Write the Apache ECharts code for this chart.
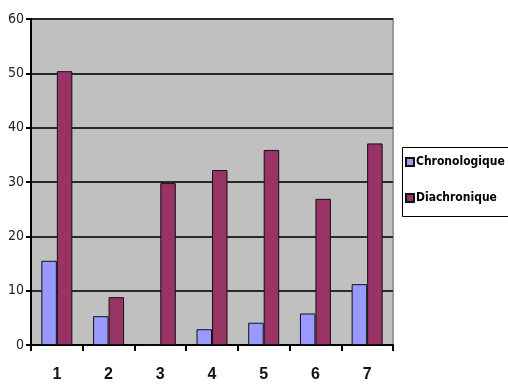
<!DOCTYPE html>
<html>
<head>
<meta charset="utf-8">
<script src="https://cdn.jsdelivr.net/npm/echarts@6/dist/echarts.min.js"></script>
<style>
  html, body { margin: 0; padding: 0; background: #fff; }
  #chart { width: 508px; height: 387px; }
</style>
</head>
<body>
<div id="chart"></div>
<script>
// Categories and values per series
const categories = ['1', '2', '3', '4', '5', '6', '7'];
const chronologique = [15.5, 5.3, 0, 2.9, 4.1, 5.8, 11.2];
const diachronique = [50.4, 8.8, 29.8, 32.2, 35.9, 26.9, 37.1];
const yTicks = { min: 0, max: 60, interval: 10 };

const chart = echarts.init(document.getElementById('chart'));

chart.setOption({
  animation: false,
  backgroundColor: '#ffffff',
  grid: {
    left: 31, right: 115, top: 19, bottom: 42,
    show: true,
    backgroundColor: '#C0C0C0',
    borderColor: '#9a9a9a',
    borderWidth: 2
  },
  legend: {
    orient: 'vertical',
    left: 405, top: 156,
    itemWidth: 8, itemHeight: 8,
    itemGap: 24,
    icon: 'rect',
    padding: 0,
    textStyle: {
      fontFamily: 'DejaVu Sans Condensed',
      fontWeight: 'bold',
      fontSize: 12,
      color: '#000',
      padding: [0, 0, 0, -3]
    },
    data: ['Chronologique', 'Diachronique']
  },
  graphic: [{
    type: 'rect',
    shape: { x: 402.5, y: 147.5, width: 120, height: 69 },
    style: { fill: 'none', stroke: '#000', lineWidth: 1 },
    z: 1
  }],
  xAxis: {
    type: 'category',
    data: categories,
    axisLine: { lineStyle: { color: '#000', width: 2 } },
    axisTick: { show: true, length: 6, lineStyle: { color: '#000', width: 2 } },
    axisLabel: {
      margin: 22,
      fontFamily: 'Liberation Sans',
      fontWeight: 'bold',
      fontSize: 16,
      color: '#111'
    }
  },
  yAxis: {
    type: 'value',
    min: yTicks.min, max: yTicks.max, interval: yTicks.interval,
    axisLine: { show: true, lineStyle: { color: '#000', width: 2 } },
    axisTick: { show: true, length: 5, lineStyle: { color: '#000', width: 2 } },
    axisLabel: {
      margin: 7,
      fontFamily: 'DejaVu Sans Condensed',
      fontSize: 14,
      color: '#222'
    },
    splitLine: { show: true, lineStyle: { color: '#2a2a2a', width: 2 } }
  },
  series: [
    {
      name: 'Chronologique',
      type: 'bar',
      data: chronologique,
      barWidth: 15.5,
      barGap: '0%',
      itemStyle: { color: '#9999FF', borderColor: '#111', borderWidth: 1 }
    },
    {
      name: 'Diachronique',
      type: 'bar',
      data: diachronique,
      barWidth: 15.5,
      itemStyle: { color: '#993366', borderColor: '#111', borderWidth: 1 }
    }
  ]
});
</script>
</body>
</html>
